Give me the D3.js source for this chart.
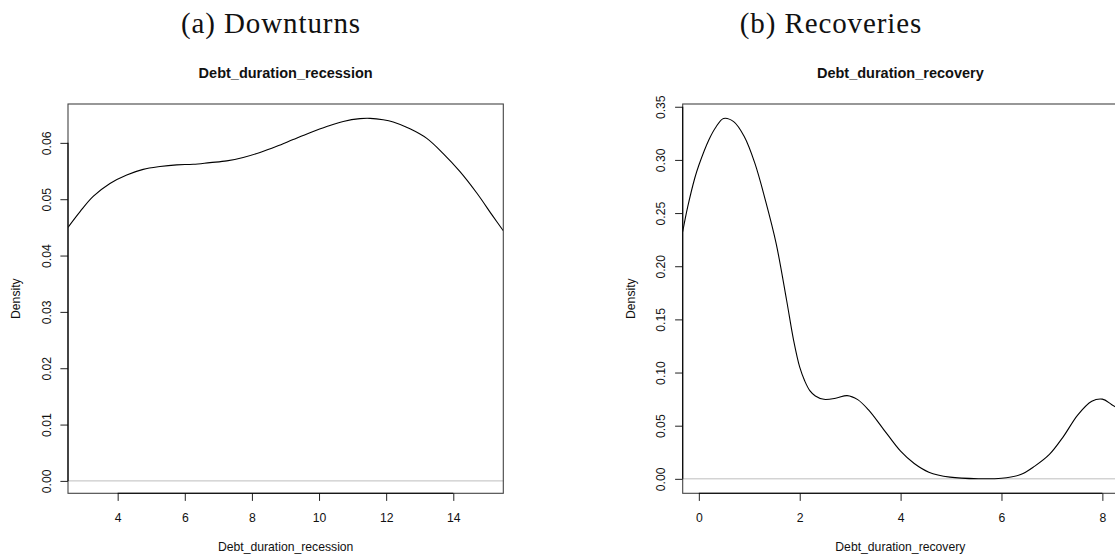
<!DOCTYPE html>
<html lang="en">
<head>
    <meta charset="UTF-8">
    <title>Debt duration densities</title>
    <script src="https://d3js.org/d3.v7.min.js"></script>
    <style>
        body {
            margin: 0;
            background: white;
        }
        .caption {
            font-family: "Liberation Serif", "Times New Roman", serif;
            font-size: 29px;
            letter-spacing: 0.9px;
            fill: #111;
        }
        .r-text {
            font-family: "Liberation Sans", Arial, sans-serif;
            font-size: 12.2px;
            fill: #111;
        }
        .main-title {
            font-family: "Liberation Sans", Arial, sans-serif;
            font-size: 14.5px;
            font-weight: bold;
            fill: #111;
        }
    </style>
</head>
<body>
    <div id="chart"></div>

    <script>
        // Values
        const captions = ["(a) Downturns", "(b) Recoveries"];
        const titles = ["Debt_duration_recession", "Debt_duration_recovery"];

        const recessionX = [2.52, 2.88, 3.27, 3.77, 4.27, 4.76, 5.26, 5.76, 6.25, 6.75, 7.25, 7.74, 8.24, 8.74,
            9.23, 9.73, 10.23, 10.72, 11.22, 11.52, 11.91, 12.21, 12.71, 13.21, 13.70, 14.20, 14.70, 15.19, 15.49];
        const recessionDensity = [0.0450, 0.0478, 0.0505, 0.0528, 0.0543, 0.0553, 0.0558, 0.0561, 0.0562, 0.0565,
            0.0568, 0.0574, 0.0583, 0.0594, 0.0606, 0.0618, 0.0629, 0.0638, 0.0643, 0.06435, 0.0641, 0.0637,
            0.0625, 0.0608, 0.0581, 0.0549, 0.0511, 0.0469, 0.0444];

        const recoveryX = [-0.32, -0.22, -0.08, 0, 0.2, 0.34, 0.49, 0.69, 0.9, 1.11, 1.32, 1.53, 1.74, 1.88, 2.0,
            2.1, 2.2, 2.31, 2.48, 2.73, 2.94, 3.15, 3.36, 3.64, 4.0, 4.27, 4.56, 4.98, 5.54, 6.0, 6.38, 6.66, 6.95,
            7.23, 7.51, 7.79, 8.0, 8.18, 8.31];
        const recoveryDensity = [0.2326, 0.256, 0.283, 0.295, 0.319, 0.331, 0.339, 0.336, 0.322, 0.297, 0.262,
            0.222, 0.168, 0.130, 0.105, 0.092, 0.083, 0.078, 0.0748, 0.076, 0.0783, 0.0745, 0.065, 0.048, 0.026,
            0.0144, 0.0063, 0.0016, 0.0001, 0.0006, 0.004, 0.012, 0.023, 0.040, 0.060, 0.073, 0.075, 0.070, 0.066];

        const recessionXLim = [2.52, 15.49];
        const recessionYLim = [-0.0022, 0.0669];
        const recoveryXLim = [-0.32, 8.31];
        const recoveryYLim = [-0.0136, 0.3526];

        const recessionXTicks = [4, 6, 8, 10, 12, 14];
        const recessionYTicks = [0.00, 0.01, 0.02, 0.03, 0.04, 0.05, 0.06];
        const recoveryXTicks = [0, 2, 4, 6, 8];
        const recoveryYTicks = [0.00, 0.05, 0.10, 0.15, 0.20, 0.25, 0.30, 0.35];

        const W = 1115, H = 559;
        const box = { left: 68, top: 104, width: 435.3, height: 389.3 };
        const tick = 7.6;

        const svg = d3.select("#chart")
            .append("svg")
            .attr("width", W)
            .attr("height", H);

        svg.append("rect").attr("width", W).attr("height", H).attr("fill", "white");

        // subfigure captions
        svg.append("text").attr("class", "caption")
            .attr("x", 271).attr("y", 32.7).attr("text-anchor", "middle")
            .text(captions[0]);
        svg.append("text").attr("class", "caption")
            .attr("x", 831).attr("y", 32.7).attr("text-anchor", "middle")
            .text(captions[1]);

        function drawPanel(offsetX, id, title, xs, ys, xLim, yLim, xTicks, yTicks) {
            const g = svg.append("g").attr("transform", `translate(${offsetX + box.left}, ${box.top})`);

            const x = d3.scaleLinear().domain(xLim).range([0, box.width]);
            const y = d3.scaleLinear().domain(yLim).range([box.height, 0]);

            g.append("clipPath").attr("id", id)
                .append("rect").attr("width", box.width).attr("height", box.height);

            // zero line
            g.append("line")
                .attr("x1", 0).attr("x2", box.width)
                .attr("y1", y(0)).attr("y2", y(0))
                .attr("stroke", "#bebebe").attr("stroke-width", 1);

            // density curve
            const pts = xs.map((v, i) => [v, ys[i]]);
            const line = d3.line()
                .x(d => x(d[0]))
                .y(d => y(d[1]))
                .curve(d3.curveCatmullRom.alpha(0.5));
            g.append("path")
                .datum(pts)
                .attr("clip-path", `url(#${id})`)
                .attr("d", line)
                .attr("fill", "none")
                .attr("stroke", "black")
                .attr("stroke-width", 1.1);

            // box
            g.append("rect")
                .attr("width", box.width).attr("height", box.height)
                .attr("fill", "none").attr("stroke", "#444").attr("stroke-width", 1.1);

            // x axis
            const xAxis = g.append("g")
                .attr("transform", `translate(0, ${box.height})`)
                .call(d3.axisBottom(x).tickValues(xTicks).tickSize(tick).tickFormat(d3.format("d")));
            xAxis.select(".domain").remove();
            xAxis.append("line")
                .attr("x1", x(xTicks[0])).attr("x2", x(xTicks[xTicks.length - 1]))
                .attr("stroke", "black").attr("stroke-width", 1.1);
            xAxis.selectAll(".tick line").attr("stroke", "#222");
            xAxis.selectAll("text")
                .attr("class", "r-text")
                .attr("y", 28.4).attr("dy", 0)
                .attr("fill", null);

            // y axis
            const yAxis = g.append("g")
                .call(d3.axisLeft(y).tickValues(yTicks).tickSize(tick).tickFormat(d3.format(".2f")));
            yAxis.select(".domain").remove();
            yAxis.append("line")
                .attr("y1", y(yTicks[0])).attr("y2", y(yTicks[yTicks.length - 1]))
                .attr("stroke", "black").attr("stroke-width", 1.1);
            yAxis.selectAll(".tick line").attr("stroke", "#222");
            yAxis.selectAll("text")
                .attr("class", "r-text")
                .attr("x", 0).attr("dy", 0)
                .attr("text-anchor", "middle")
                .attr("transform", "translate(-17.5, 0) rotate(-90)")
                .attr("fill", null);

            // titles
            g.append("text").attr("class", "main-title")
                .attr("x", box.width / 2).attr("y", 78.3 - box.top)
                .attr("text-anchor", "middle")
                .text(title);
            g.append("text").attr("class", "r-text")
                .attr("x", box.width / 2).attr("y", 550.5 - box.top)
                .attr("text-anchor", "middle")
                .text(title);
            g.append("text").attr("class", "r-text")
                .attr("transform", `translate(${20 - box.left}, ${box.height / 2}) rotate(-90)`)
                .attr("text-anchor", "middle")
                .text("Density");
        }

        drawPanel(0, "clip-a", titles[0], recessionX, recessionDensity,
            recessionXLim, recessionYLim, recessionXTicks, recessionYTicks);
        drawPanel(614.7, "clip-b", titles[1], recoveryX, recoveryDensity,
            recoveryXLim, recoveryYLim, recoveryXTicks, recoveryYTicks);
    </script>
</body>
</html>
